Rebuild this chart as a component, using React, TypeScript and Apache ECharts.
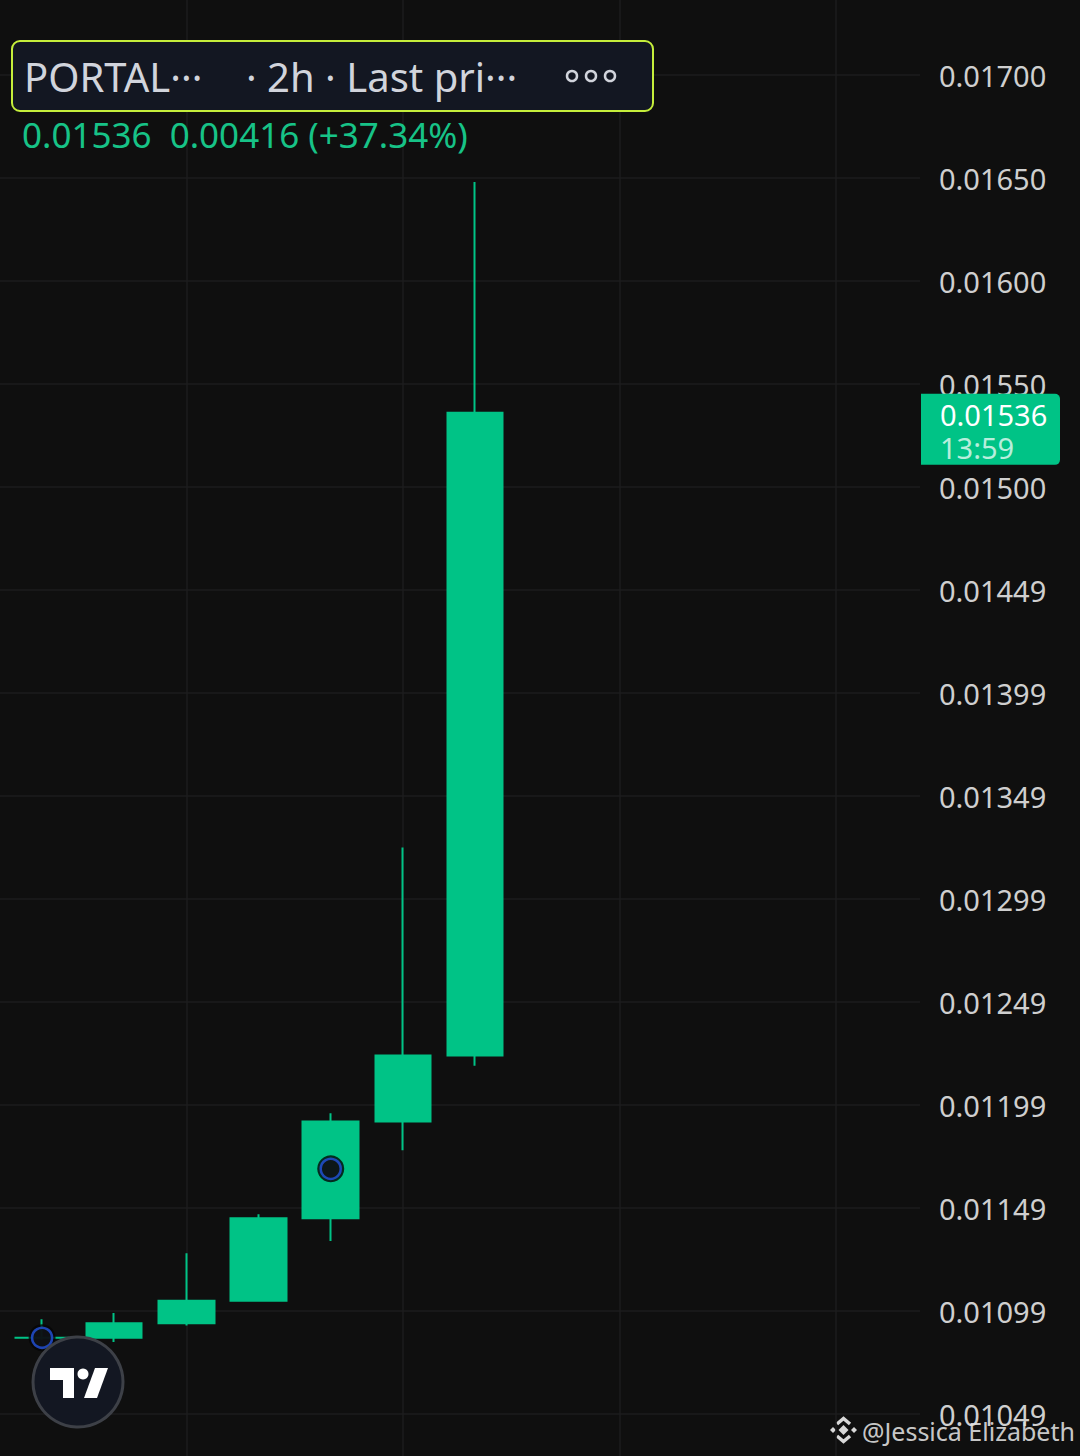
import React, { useEffect, useRef } from "react";
import * as echarts from "echarts";

// ---- data ----
const candleIndex = [0, 1, 2, 3, 4, 5, 6];
const opens = [0.01087, 0.01087, 0.01094, 0.01105, 0.01145, 0.01192, 0.01224];
const closes = [0.01087, 0.01094, 0.01105, 0.01145, 0.01192, 0.01224, 0.01536];
const lows = [0.01086, 0.01085, 0.01093, 0.01105, 0.01134, 0.01178, 0.01219];
const highs = [0.01096, 0.01099, 0.01128, 0.01147, 0.01196, 0.01325, 0.01648];

const markerIndex = [0, 4];
const markerPrice = [0.01087, 0.01169];

const yTickLabels = [
  "0.01700", "0.01650", "0.01600", "0.01550", "0.01500", "0.01449", "0.01399",
  "0.01349", "0.01299", "0.01249", "0.01199", "0.01149", "0.01099", "0.01049",
];
const yTopTick = 0.017;
const yStep = 0.0005;
const verticalGridIndex = [2, 5, 8, 11];

const lastPrice = 0.01536;
const lastPriceText = "0.01536";
const countdownText = "13:59";
const headerSymbol = "PORTAL···";
const headerInfo = "· 2h · Last pri···";
const changeText = "0.01536  0.00416 (+37.34%)";
const watermarkText = "@Jessica Elizabeth";

const GREEN = "#00c386";
const BG = "#0f0f0f";
const GRID = "#1c1c1e";
const FONT = "Noto Sans";
const X_MIN = -0.583;
const X_MAX = 12.166;

// the plotting canvas is taller than the page; it is shifted up so that the
// axis range 0.0100..0.0175 lines up with the reference's gridlines
const SHIFT = 28; // px hidden above the page
const CANVAS_H = 1545;

export default function App() {
  const ref = useRef<HTMLDivElement>(null);

  useEffect(() => {
    document.body.style.margin = "0";
    document.body.style.background = BG;
    if (!ref.current) return;
    const chart = echarts.init(ref.current, undefined, { renderer: "svg" });

    const candleData = candleIndex.map((x, i) => [x, opens[i], closes[i], lows[i], highs[i]]);
    const markerData = markerIndex.map((x, i) => [x, markerPrice[i]]);

    chart.setOption({
      animation: false,
      backgroundColor: BG,
      grid: { left: 0, right: 160, top: 0, bottom: 0 },
      xAxis: {
        type: "value",
        min: X_MIN,
        max: X_MAX,
        axisLine: { show: false },
        axisTick: { show: false },
        axisLabel: { show: false },
        splitLine: { show: false },
      },
      yAxis: {
        type: "value",
        position: "right",
        min: 0.01,
        max: 0.0175,
        interval: yStep,
        axisLine: { show: false },
        axisTick: { show: false },
        splitLine: { lineStyle: { color: GRID, width: 1.5 } },
        axisLabel: {
          color: "#cfcfcf",
          fontSize: 29,
          fontFamily: FONT,
          margin: 19,
          align: "left",
          padding: [3, 0, 0, 0],
          formatter: (v: number) => {
            const idx = Math.round((yTopTick - v) / yStep);
            return idx >= 0 && idx < yTickLabels.length ? yTickLabels[idx] : "";
          },
        },
      },
      series: [
        {
          type: "scatter",
          data: [],
          silent: true,
          markLine: {
            z: 1,
            silent: true,
            symbol: "none",
            label: { show: false },
            lineStyle: { color: GRID, width: 1.5, type: "solid" },
            data: verticalGridIndex.map((x) => ({ xAxis: x })),
          },
        },
        {
          type: "candlestick",
          z: 2,
          barWidth: 56,
          encode: { x: 0, y: [1, 2, 3, 4] },
          data: candleData,
          itemStyle: {
            color: GREEN,
            color0: GREEN,
            borderColor: GREEN,
            borderColor0: GREEN,
            borderWidth: 2,
          },
          markLine: {
            z: 3,
            silent: true,
            symbol: "none",
            label: { show: false },
            lineStyle: { color: GREEN, width: 1.5, type: [2, 4] },
            data: [{ yAxis: lastPrice }],
          },
        },
        {
          type: "scatter",
          z: 4,
          symbol: "circle",
          symbolSize: 27,
          data: markerData,
          itemStyle: { color: "#050505" },
        },
        {
          type: "scatter",
          z: 5,
          symbol: "circle",
          symbolSize: 20,
          data: markerData,
          itemStyle: { color: "#101318", borderColor: "#2352dc", borderWidth: 2.5 },
        },
      ],
    });

    const py = chart.convertToPixel({ yAxisIndex: 0 }, lastPrice) as number;
    const px = chart.convertToPixel({ xAxisIndex: 0 }, X_MAX) as number;
    const S = SHIFT; // page y -> canvas y

    const txt = (text: string, x: number, y: number, size: number, fill: string, extra: any = {}) => ({
      type: "text",
      z: 100,
      style: { text, x, y, fill, fontSize: size, fontFamily: FONT, verticalAlign: "middle", align: "left", ...extra },
    });

    chart.setOption({
      graphic: [
        // header box
        {
          type: "rect",
          z: 100,
          shape: { x: 12, y: 41 + S, width: 641, height: 70, r: 8 },
          style: { fill: "#131722", stroke: "#c5ee3b", lineWidth: 2 },
        },
        txt(headerSymbol, 24, 76 + S, 40, "#d1d4dc"),
        txt(headerInfo, 246, 76 + S, 40, "#d1d4dc"),
        ...[572, 591, 610].map((cx) => ({
          type: "circle",
          z: 100,
          shape: { cx, cy: 76 + S, r: 5 },
          style: { fill: "none", stroke: "#d1d4dc", lineWidth: 2.5 },
        })),
        txt(changeText, 22, 134 + S, 35, "#17c387"),
        // last price label
        {
          type: "rect",
          z: 100,
          shape: { x: px + 1, y: py - 19, width: 139, height: 71, r: [0, 5, 5, 0] },
          style: { fill: GREEN },
        },
        txt(lastPriceText, px + 20, py + 2, 29, "#ffffff"),
        txt(countdownText, px + 20, py + 35, 29, "rgba(255,255,255,0.72)"),
        // TradingView logo
        {
          type: "circle",
          z: 100,
          shape: { cx: 78, cy: 1382 + S, r: 45 },
          style: { fill: "#131722", stroke: "#3d4047", lineWidth: 3 },
        },
        {
          type: "polygon",
          z: 101,
          shape: { points: [[50, 1368], [74, 1368], [74, 1398], [63, 1398], [63, 1380], [50, 1380]].map(([x, y]) => [x, y + S]) },
          style: { fill: "#ffffff" },
        },
        { type: "circle", z: 101, shape: { cx: 83, cy: 1374 + S, r: 5.5 }, style: { fill: "#ffffff" } },
        {
          type: "polygon",
          z: 101,
          shape: { points: [[95, 1368], [108, 1368], [97, 1398], [84, 1398]].map(([x, y]) => [x, y + S]) },
          style: { fill: "#ffffff" },
        },
        // watermark
        {
          type: "group",
          z: 100,
          y: S,
          children: [
            { type: "polygon", shape: { points: [[843.5, 1425], [848.5, 1430], [843.5, 1435], [838.5, 1430]] }, style: { fill: "#d8d8d8" } },
            { type: "polygon", shape: { points: [[833, 1427], [836, 1430], [833, 1433], [830, 1430]] }, style: { fill: "#d8d8d8" } },
            { type: "polygon", shape: { points: [[854, 1427], [857, 1430], [854, 1433], [851, 1430]] }, style: { fill: "#d8d8d8" } },
            { type: "polyline", shape: { points: [[837, 1424], [843.5, 1418.5], [850, 1424]] }, style: { stroke: "#d8d8d8", lineWidth: 3.5, fill: "none" } },
            { type: "polyline", shape: { points: [[837, 1436], [843.5, 1441.5], [850, 1436]] }, style: { stroke: "#d8d8d8", lineWidth: 3.5, fill: "none" } },
          ],
        },
        txt(watermarkText, 862, 1431 + S, 25, "rgba(225,225,225,0.9)"),
      ],
    });

    return () => chart.dispose();
  }, []);

  return (
    <div style={{ width: 1080, height: 1456, overflow: "hidden", position: "relative", background: BG }}>
      <div ref={ref} style={{ position: "absolute", left: 0, top: -SHIFT, width: 1080, height: CANVAS_H }} />
    </div>
  );
}
